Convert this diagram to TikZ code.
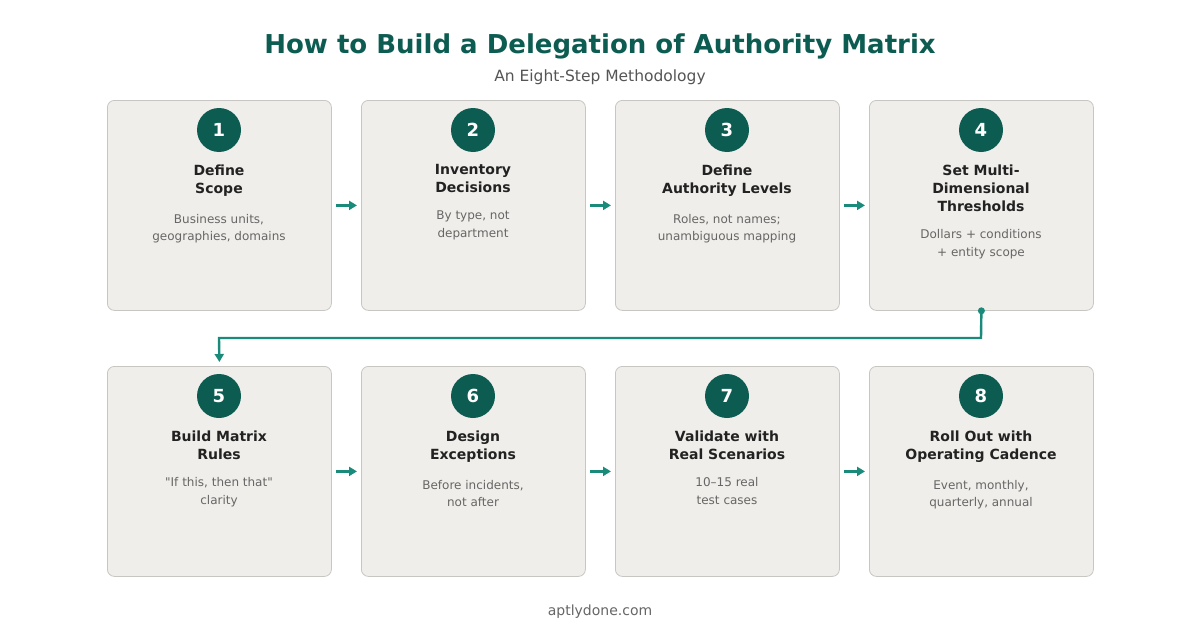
\documentclass[tikz,border=0pt]{standalone}
\usepackage{fontspec}
\setmainfont{DejaVu Sans}
\newfontfamily\rawfont{DejaVu Sans}[Ligatures=ResetAll]
\usetikzlibrary{arrows.meta}
\definecolor{teal1}{HTML}{0D5C52}
\definecolor{teal2}{HTML}{1A8A7A}
\definecolor{cardbg}{HTML}{F0EEEA}
\definecolor{cardln}{HTML}{C8C6C2}
\definecolor{txt}{HTML}{222222}
\definecolor{sub}{HTML}{555555}
\definecolor{desc}{HTML}{666666}
\tikzset{
 card/.style={draw=cardln,fill=cardbg,rounded corners=7pt,minimum width=224pt,minimum height=210pt,line width=0.8pt,anchor=north west},
 num/.style={circle,fill=teal1,minimum size=44pt,inner sep=0pt,text=white,font=\bfseries\fontsize{18}{18}\selectfont},
 ttl/.style={align=center,text=txt,font=\bfseries\fontsize{14}{18}\selectfont,anchor=north},
 dsc/.style={align=center,text=desc,font=\fontsize{12}{17.5}\selectfont,anchor=north},
 arr/.style={draw=teal2,line width=2.4pt,-{Triangle[length=8pt,width=9pt]}}
}
\begin{document}
\begin{tikzpicture}[x=1pt,y=-1pt]
\useasboundingbox[fill=white] (0,0) rectangle (1200,629);
\node[text=teal1,font=\bfseries\fontsize{26}{28}\selectfont] (title) at (600,46) {How to Build a Delegation of Authority Matrix};
\node[text=sub,font=\fontsize{15.5}{18}\selectfont] (subt) at (600,77) {An Eight-Step Methodology};
\node[text=desc,font=\fontsize{14}{18}\selectfont] (foot) at (600,612) {aptlydone.com};
\foreach \i/\x/\y/\t/\d in {
1/107/100/{Define\\Scope}/{Business units,\\geographies, domains},
2/361/100/{Inventory\\Decisions}/{By type, not\\department},
3/615/100/{Define\\Authority Levels}/{Roles, not names;\\unambiguous mapping},
4/869/100/{Set Multi-\\Dimensional\\Thresholds}/{Dollars + conditions\\+ entity scope},
5/107/366/{Build Matrix\\Rules}/{{\rawfont "If this, then that"}\\clarity},
6/361/366/{Design\\Exceptions}/{Before incidents,\\not after},
7/615/366/{Validate with\\Real Scenarios}/{10–15 real\\test cases},
8/869/366/{Roll Out with\\Operating Cadence}/{Event, monthly,\\quarterly, annual}}{
 \node[card] (c\i) at (\x,\y) {};
 \node[num] (n\i) at (\x+112,\y+30) {\i};
 \node[ttl] (t\i) at (\x+112,\y+61) {\t};
 \node[dsc] (d\i) at ([yshift=-11pt]t\i.south) {\d};
}
\foreach \a/\b in {1/2,2/3,3/4,5/6,6/7,7/8}{
 \draw[arr] ([xshift=4pt]c\a.east) -- ([xshift=-4pt]c\b.west);
}
\coordinate (k1) at (981,338);
\coordinate (k2) at (219,338);
\fill[teal2] (c4.south) circle (3.5pt);
\draw[arr] (c4.south) -- (k1) -- (k2) -- ([yshift=4pt]c5.north);
\end{tikzpicture}
\end{document}
